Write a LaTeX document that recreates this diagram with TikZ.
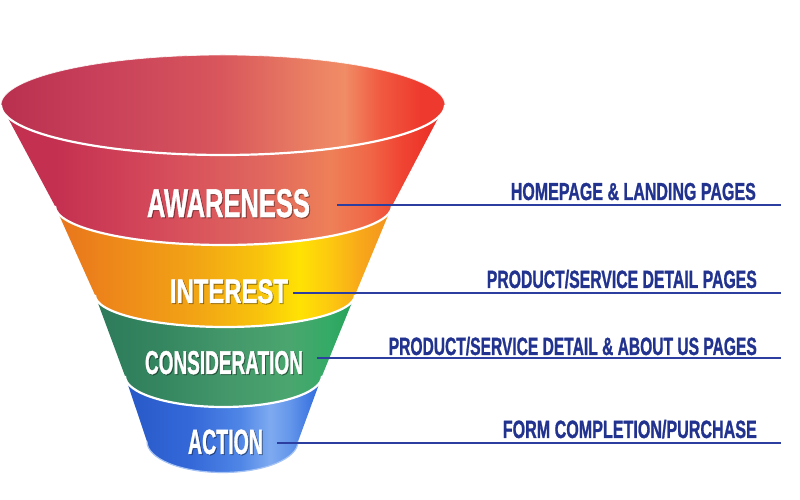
\documentclass[tikz,border=0pt]{standalone}
\usepackage{fontspec}
\setmainfont{Liberation Sans}
\usepackage{graphicx}
\definecolor{lblblue}{HTML}{22338F}
\definecolor{lineblue}{HTML}{2C3FA0}
% top interior
\definecolor{t0}{HTML}{B8304E}
\definecolor{t1}{HTML}{C8405A}
\definecolor{t2}{HTML}{D8565C}
\definecolor{t3}{HTML}{EC8464}
\definecolor{t4}{HTML}{F08C66}
\definecolor{t5}{HTML}{F05A40}
\definecolor{t6}{HTML}{EE3A2E}
% red band
\definecolor{r0}{HTML}{C43050}
\definecolor{r1}{HTML}{D4485A}
\definecolor{r2}{HTML}{E0665E}
\definecolor{r3}{HTML}{EE8058}
\definecolor{r4}{HTML}{F06646}
\definecolor{r5}{HTML}{F04634}
\definecolor{r6}{HTML}{EC3228}
% orange band
\definecolor{o0}{HTML}{E8741C}
\definecolor{o1}{HTML}{EE8A1A}
\definecolor{o2}{HTML}{F2A614}
\definecolor{o3}{HTML}{F8C40C}
\definecolor{o4}{HTML}{FFE204}
\definecolor{o5}{HTML}{FCC810}
\definecolor{o6}{HTML}{F8A81A}
\definecolor{o7}{HTML}{F39020}
% green band
\definecolor{g0}{HTML}{2D7A5A}
\definecolor{g1}{HTML}{348660}
\definecolor{g2}{HTML}{44986A}
\definecolor{g3}{HTML}{4AA66E}
\definecolor{g4}{HTML}{33AB66}
\definecolor{g5}{HTML}{26A05A}
% blue band
\definecolor{b0}{HTML}{2858C8}
\definecolor{b1}{HTML}{3468D8}
\definecolor{b2}{HTML}{4F86E6}
\definecolor{b3}{HTML}{7EAAF0}
\definecolor{b4}{HTML}{6496EA}
\definecolor{b5}{HTML}{2A66DC}
% x (0..450) -> 25 + x/9 bp
\pgfdeclarehorizontalshading{topsh}{100bp}{color(0bp)=(t0); color(25bp)=(t0); color(36.1bp)=(t1); color(49.4bp)=(t2); color(60.6bp)=(t3); color(63.3bp)=(t4); color(67.2bp)=(t5); color(71.7bp)=(t6); color(100bp)=(t6)}
\pgfdeclarehorizontalshading{redsh}{100bp}{color(0bp)=(r0); color(31bp)=(r0); color(41.7bp)=(r1); color(53.9bp)=(r2); color(61.7bp)=(r3); color(66.1bp)=(r4); color(69.4bp)=(r5); color(72.8bp)=(r6); color(100bp)=(r6)}
\pgfdeclarehorizontalshading{orsh}{100bp}{color(0bp)=(o0); color(31bp)=(o0); color(38.3bp)=(o1); color(47.2bp)=(o2); color(53.9bp)=(o3); color(58.3bp)=(o4); color(61.7bp)=(o5); color(65bp)=(o6); color(68.6bp)=(o7); color(100bp)=(o7)}
\pgfdeclarehorizontalshading{grsh}{100bp}{color(0bp)=(g0); color(35.6bp)=(g0); color(42.8bp)=(g1); color(50.6bp)=(g2); color(57.2bp)=(g3); color(61.7bp)=(g4); color(64.4bp)=(g5); color(100bp)=(g5)}
\pgfdeclarehorizontalshading{blsh}{100bp}{color(0bp)=(b0); color(38.9bp)=(b0); color(46.1bp)=(b1); color(51.7bp)=(b2); color(55bp)=(b3); color(57.2bp)=(b4); color(60.8bp)=(b5); color(100bp)=(b5)}
\newcommand{\fz}[3]{\resizebox{#1pt}{\height}{\fontsize{#2}{#2}\selectfont\bfseries\addfontfeature{FakeBold=1.3}#3}}
\tikzset{
  sep/.style={draw=white, line width=2.2pt},
  conn/.style={draw=lineblue, line width=1.3pt},
  lbl/.style={anchor=base east, inner sep=0pt, text=lblblue},
  stage/.style={anchor=base, inner sep=0pt, text=white},
  stageshadow/.style={anchor=base, inner sep=0pt, text=black, opacity=0.35},
}
\begin{document}
\begin{tikzpicture}[x=1pt,y=1pt]
\useasboundingbox[fill=white] (0,0) rectangle (800,500);
% bands
\begin{scope}
\clip (1,395) -- (55,294) arc[start angle=180,end angle=360,x radius=168.5pt,y radius=39pt]
  -- (445,395) arc[start angle=0,end angle=-180,x radius=222pt,y radius=50pt] -- cycle;
\shade[shading=redsh] (0,0) rectangle (450,500);
\end{scope}
\begin{scope}
\clip (55,294) -- (95,205) arc[start angle=180,end angle=360,x radius=130pt,y radius=32pt]
  -- (392,294) arc[start angle=0,end angle=-180,x radius=168.5pt,y radius=39pt] -- cycle;
\shade[shading=orsh] (0,0) rectangle (450,500);
\end{scope}
\begin{scope}
\clip (95,205) -- (125,124) arc[start angle=180,end angle=360,x radius=98.5pt,y radius=31pt]
  -- (355,205) arc[start angle=0,end angle=-180,x radius=130pt,y radius=32pt] -- cycle;
\shade[shading=grsh] (0,0) rectangle (450,500);
\end{scope}
\begin{scope}
\clip (125,124) -- (147,58.5) arc[start angle=180,end angle=360,x radius=75.5pt,y radius=31pt]
  -- (322,124) arc[start angle=0,end angle=-180,x radius=98.5pt,y radius=31pt] -- cycle;
\shade[shading=blsh] (0,0) rectangle (450,500);
\end{scope}
% top opening
\begin{scope}
\clip (223,395) ellipse[x radius=222pt,y radius=50pt];
\shade[shading=topsh] (0,0) rectangle (450,500);
\end{scope}
\draw[white, line width=0.8pt, opacity=0.8] (445,395) arc[start angle=0,end angle=180,x radius=222pt,y radius=50pt];
\draw[sep] (1,395) arc[start angle=180,end angle=360,x radius=222pt,y radius=50pt];
% separators
\draw[sep] (55,294) arc[start angle=180,end angle=360,x radius=168.5pt,y radius=39pt];
\draw[sep] (95,205) arc[start angle=180,end angle=360,x radius=130pt,y radius=32pt];
\draw[sep] (125,124) arc[start angle=180,end angle=360,x radius=98.5pt,y radius=31pt];
\draw[draw=b3!70!white, line width=1.2pt] (147,58.5) arc[start angle=180,end angle=360,x radius=75.5pt,y radius=31pt];
% stage texts
\node[stageshadow] (awareS) at (229.5,282) {\fz{163}{40}{AWARENESS}};
\node[stage] (aware) at (228.5,283) {\fz{163}{40}{AWARENESS}};
\node[stageshadow] (intS) at (230,196) {\fz{118}{34}{INTEREST}};
\node[stage] (int) at (229,197) {\fz{118}{34}{INTEREST}};
\node[stageshadow] (consS) at (225,125) {\fz{158}{33}{CONSIDERATION}};
\node[stage] (cons) at (224,126) {\fz{158}{33}{CONSIDERATION}};
\node[stageshadow] (actS) at (226.5,45) {\fz{75}{35}{ACTION}};
\node[stage] (act) at (225.5,46) {\fz{75}{35}{ACTION}};
% labels
\node[lbl] (l1) at (756,300) {\fz{245}{24.5}{HOMEPAGE \& LANDING PAGES}};
\node[lbl] (l2) at (757,212) {\fz{270}{25}{PRODUCT/SERVICE DETAIL PAGES}};
\node[lbl] (l3) at (757,145) {\fz{368}{25}{PRODUCT/SERVICE DETAIL \& ABOUT US PAGES}};
\node[lbl] (l4) at (757,62) {\fz{254}{25}{FORM COMPLETION/PURCHASE}};
% connectors
\coordinate (c1a) at (337,295); \coordinate (c1b) at (781,295);
\coordinate (c2a) at (293,207); \coordinate (c2b) at (781,207);
\coordinate (c3a) at (317,142); \coordinate (c3b) at (781,142);
\coordinate (c4a) at (277,57); \coordinate (c4b) at (781,57);
\draw[conn] (c1a) -- (c1b);
\draw[conn] (c2a) -- (c2b);
\draw[conn] (c3a) -- (c3b);
\draw[conn] (c4a) -- (c4b);
\end{tikzpicture}
\end{document}
